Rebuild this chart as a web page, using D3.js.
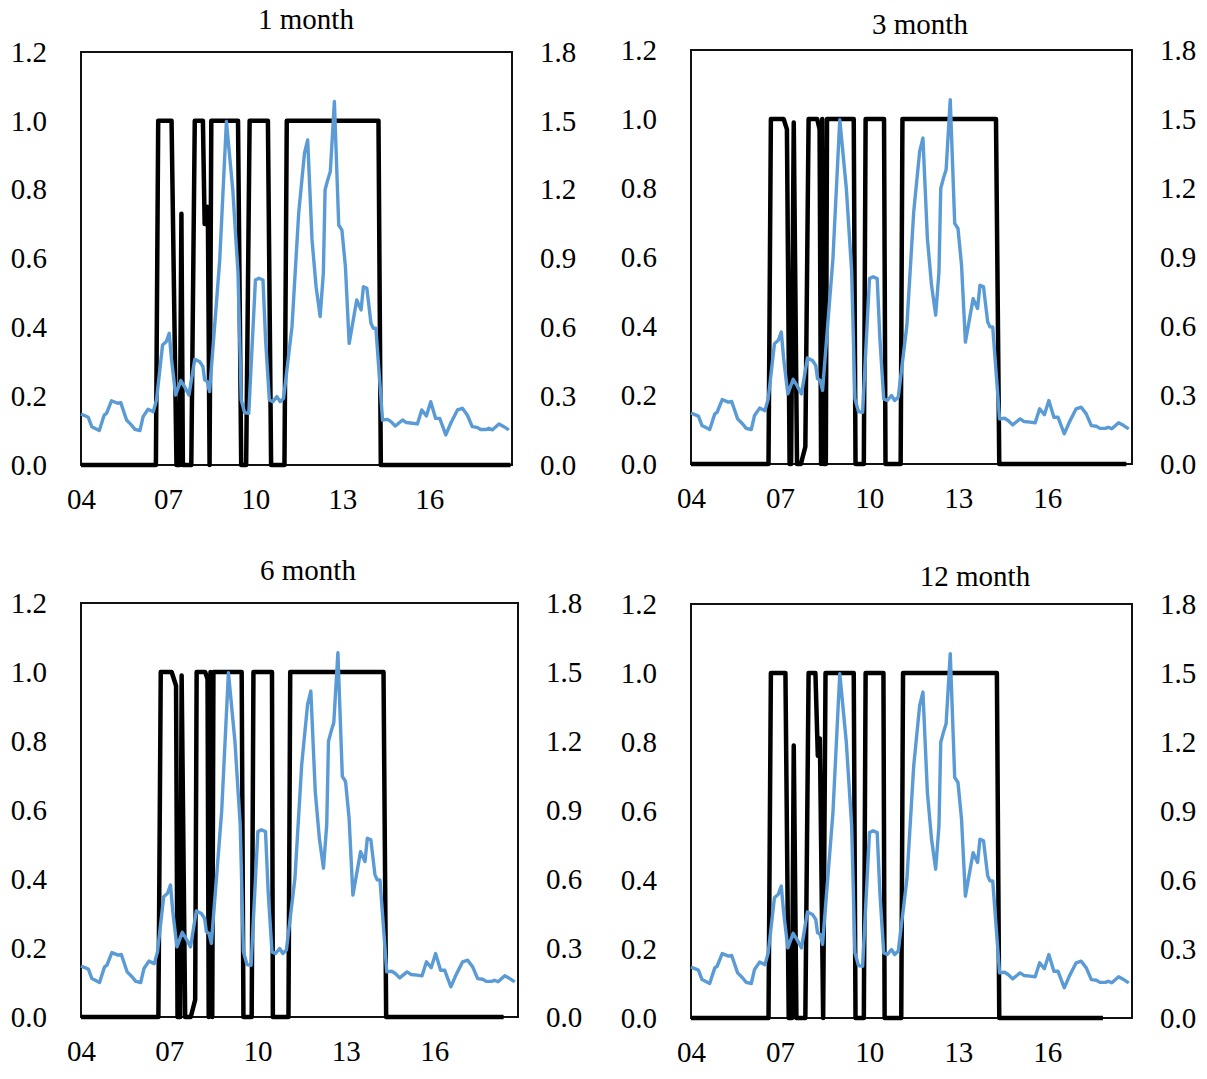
<!DOCTYPE html>
<html>
<head>
<meta charset="utf-8">
<script src="https://cdn.jsdelivr.net/npm/d3@7"></script>
<style>
  body { margin: 0; background: #fff; }
  svg { display: block; }
</style>
</head>
<body>
<div id="chart"></div>
<script>
// tick values and labels
const xTicks = [2004, 2007, 2010, 2013, 2016];
const xTickLabels = ["04", "07", "10", "13", "16"];
const leftTicks = [0, 0.2, 0.4, 0.6, 0.8, 1.0, 1.2];
const rightTicks = [0, 0.3, 0.6, 0.9, 1.2, 1.5, 1.8];
const titles = ["1 month", "3 month", "6 month", "12 month"];

// blue series (right axis), [year, value]
const blueSeries = [
  [2004.00, 0.222], [2004.25, 0.208], [2004.37, 0.167], [2004.63, 0.150], [2004.80, 0.218],
  [2004.88, 0.225], [2005.05, 0.280], [2005.26, 0.269], [2005.37, 0.272], [2005.57, 0.196],
  [2005.74, 0.174], [2005.86, 0.155], [2006.03, 0.150], [2006.14, 0.211], [2006.31, 0.243],
  [2006.49, 0.232], [2006.60, 0.283], [2006.81, 0.523], [2006.94, 0.538], [2007.04, 0.574],
  [2007.12, 0.458], [2007.26, 0.305], [2007.44, 0.368], [2007.57, 0.341], [2007.72, 0.305],
  [2007.92, 0.461], [2008.09, 0.450], [2008.20, 0.429], [2008.26, 0.371], [2008.35, 0.363],
  [2008.43, 0.320], [2008.78, 0.894], [2009.01, 1.497], [2009.23, 1.199], [2009.41, 0.836],
  [2009.52, 0.283], [2009.64, 0.228], [2009.78, 0.225], [2009.86, 0.429], [2010.01, 0.806],
  [2010.13, 0.814], [2010.27, 0.806], [2010.36, 0.545], [2010.49, 0.283], [2010.61, 0.276],
  [2010.75, 0.298], [2010.86, 0.276], [2010.98, 0.291], [2011.27, 0.603], [2011.50, 1.097],
  [2011.70, 1.359], [2011.81, 1.417], [2011.96, 0.981], [2012.10, 0.777], [2012.24, 0.647],
  [2012.35, 0.836], [2012.41, 1.199], [2012.50, 1.242], [2012.59, 1.279], [2012.73, 1.584],
  [2012.88, 1.046], [2012.99, 1.024], [2013.11, 0.865], [2013.24, 0.530], [2013.50, 0.719],
  [2013.65, 0.676], [2013.73, 0.777], [2013.85, 0.770], [2013.99, 0.618], [2014.07, 0.596],
  [2014.16, 0.596], [2014.39, 0.196], [2014.56, 0.199], [2014.68, 0.189], [2014.83, 0.170],
  [2015.08, 0.196], [2015.21, 0.185], [2015.42, 0.182], [2015.59, 0.179], [2015.74, 0.240],
  [2015.90, 0.214], [2016.05, 0.276], [2016.22, 0.203], [2016.36, 0.203], [2016.57, 0.131],
  [2016.74, 0.182], [2016.97, 0.240], [2017.14, 0.247], [2017.31, 0.218], [2017.48, 0.167],
  [2017.65, 0.164], [2017.77, 0.155], [2017.96, 0.155], [2018.05, 0.160], [2018.17, 0.153],
  [2018.40, 0.179], [2018.57, 0.167], [2018.74, 0.153]
];

// regime probability (left axis), [year, value]
const regime1m = [
  [2004.00, 0], [2006.58, 0], [2006.66, 1], [2007.12, 1], [2007.29, 0], [2007.40, 0],
  [2007.46, 0.73], [2007.51, 0], [2007.80, 0], [2007.92, 1], [2008.20, 1], [2008.26, 0.70],
  [2008.32, 0.70], [2008.37, 0.75], [2008.43, 0], [2008.49, 1], [2009.41, 1], [2009.52, 0],
  [2009.69, 0], [2009.81, 1], [2010.44, 1], [2010.55, 0], [2011.01, 0], [2011.09, 1],
  [2014.25, 1], [2014.33, 0], [2018.80, 0]
];
const regime3m = [
  [2004.00, 0], [2006.61, 0], [2006.69, 1], [2007.12, 1], [2007.23, 0.97], [2007.32, 0],
  [2007.37, 0], [2007.46, 0.99], [2007.57, 0], [2007.70, 0], [2007.85, 0.05], [2007.96, 1],
  [2008.25, 1], [2008.33, 0.97], [2008.38, 0], [2008.42, 1], [2008.47, 0], [2008.54, 0],
  [2008.58, 1], [2009.48, 1], [2009.54, 0], [2009.82, 0], [2009.88, 1], [2010.50, 1],
  [2010.55, 0], [2011.06, 0], [2011.12, 1], [2014.27, 1], [2014.38, 0], [2018.66, 0]
];
const regime6m = [
  [2004.00, 0], [2006.63, 0], [2006.71, 1], [2007.08, 1], [2007.23, 0.96], [2007.28, 0],
  [2007.37, 0], [2007.42, 0.99], [2007.54, 0], [2007.73, 0], [2007.88, 0.05], [2007.93, 1],
  [2008.22, 1], [2008.30, 0.98], [2008.34, 0], [2008.40, 1], [2008.46, 0], [2008.50, 1],
  [2009.46, 1], [2009.52, 0], [2009.80, 0], [2009.86, 1], [2010.49, 1], [2010.52, 0],
  [2011.05, 0], [2011.11, 1], [2014.28, 1], [2014.37, 0], [2018.36, 0]
];
const regime12m = [
  [2004.00, 0], [2006.61, 0], [2006.69, 1], [2007.18, 1], [2007.29, 0], [2007.40, 0],
  [2007.46, 0.79], [2007.55, 0], [2007.85, 0], [2007.96, 1], [2008.19, 1], [2008.27, 0.76],
  [2008.34, 0.81], [2008.45, 0], [2008.53, 1], [2009.48, 1], [2009.54, 0], [2009.82, 0],
  [2009.88, 1], [2010.48, 1], [2010.52, 0], [2011.08, 0], [2011.14, 1], [2014.30, 1],
  [2014.38, 0], [2017.87, 0]
];
const regimes = [regime1m, regime3m, regime6m, regime12m];

const xStart = 2004, xEnd = 2018.85;

// panel boxes on the page
const panels = [
  { left: 81,  top: 52,  right: 512,  bottom: 465,  tx: 306, ty: 29 },
  { left: 691, top: 50,  right: 1132, bottom: 464,  tx: 920, ty: 34 },
  { left: 81,  top: 603, right: 518,  bottom: 1017, tx: 308, ty: 580 },
  { left: 691, top: 604, right: 1132, bottom: 1018, tx: 975, ty: 586 }
];

const FONT = "'Liberation Serif', 'Times New Roman', serif";
const FONT_SIZE = 29;

const svg = d3.select("#chart")
  .append("svg")
  .attr("width", 1207)
  .attr("height", 1079);

function styleAxis(g) {
  g.select(".domain").remove();
  g.attr("font-family", FONT).attr("font-size", FONT_SIZE);
  g.selectAll("text").attr("fill", "#000");
}

panels.forEach((p, i) => {
  const width = p.right - p.left,
    height = p.bottom - p.top;

  const xScale = d3.scaleLinear().domain([xStart, xEnd]).range([0, width]);
  const yLeft = d3.scaleLinear().domain([0, 1.2]).range([height, 0]);
  const yRight = d3.scaleLinear().domain([0, 1.8]).range([height, 0]);

  const g = svg.append("g")
    .attr("transform", "translate(" + p.left + "," + p.top + ")");

  // left axis
  g.append("g")
    .call(d3.axisLeft(yLeft).tickValues(leftTicks).tickSize(0).tickPadding(34)
      .tickFormat(d3.format(".1f")))
    .call(styleAxis);

  // right axis
  g.append("g")
    .attr("transform", "translate(" + width + ",0)")
    .call(d3.axisRight(yRight).tickValues(rightTicks).tickSize(0).tickPadding(28)
      .tickFormat(d3.format(".1f")))
    .call(styleAxis);

  // bottom axis
  g.append("g")
    .attr("transform", "translate(0," + height + ")")
    .call(d3.axisBottom(xScale).tickValues(xTicks).tickSize(0).tickPadding(23)
      .tickFormat((d, j) => xTickLabels[j]))
    .call(styleAxis);

  // plot frame
  g.append("rect")
    .attr("x", 0).attr("y", 0)
    .attr("width", width).attr("height", height)
    .attr("fill", "none")
    .attr("stroke", "#111")
    .attr("stroke-width", 2);

  // regime line
  const blackLine = d3.line()
    .x(d => xScale(d[0]))
    .y(d => yLeft(d[1]));

  g.append("path")
    .datum(regimes[i])
    .attr("d", blackLine)
    .attr("fill", "none")
    .attr("stroke", "#000")
    .attr("stroke-width", 4.5)
    .attr("stroke-linejoin", "round");

  // blue line on the right axis
  const blueLine = d3.line()
    .x(d => xScale(d[0]))
    .y(d => yRight(d[1]));

  g.append("path")
    .datum(blueSeries)
    .attr("d", blueLine)
    .attr("fill", "none")
    .attr("stroke", "#5B9BD5")
    .attr("stroke-width", 3.4)
    .attr("stroke-linejoin", "round");

  // title
  svg.append("text")
    .attr("x", p.tx)
    .attr("y", p.ty)
    .attr("text-anchor", "middle")
    .attr("font-family", FONT)
    .attr("font-size", FONT_SIZE)
    .text(titles[i]);
});
</script>
</body>
</html>
